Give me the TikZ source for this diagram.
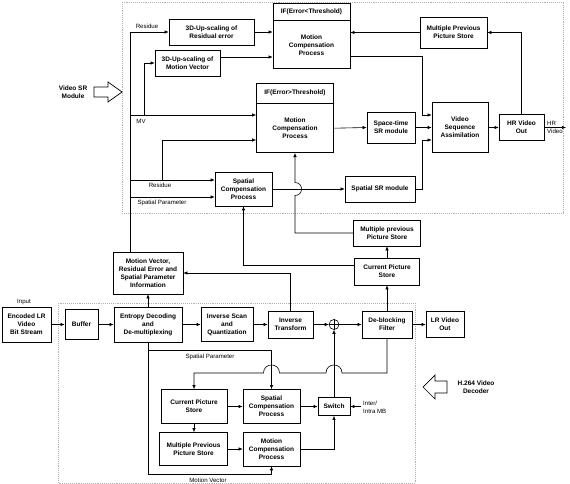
\documentclass[tikz,border=0pt]{standalone}
\usepackage{fontspec}
\setmainfont{Liberation Sans}
\usepackage{tikz}
\usetikzlibrary{positioning, arrows, arrows.meta}

\tikzset{
  blk/.style={draw, line width=0.7pt, align=center, inner sep=1pt, font=\bfseries\fontsize{6.5}{8}\selectfont},
  tag/.style={align=center, inner sep=0pt, font=\bfseries\fontsize{6.5}{8}\selectfont},
  lbl/.style={inner sep=0pt, font=\fontsize{6.1}{7.8}\selectfont},
  arr/.style={-{Latex[length=4pt,width=3.5pt]}, line width=0.6pt},
  wire/.style={line width=0.6pt},
  zone/.style={gray!60, densely dotted, line width=0.9pt},
  bigarrow/.style={draw, line width=0.7pt, fill=white},
}

\begin{document}
\begin{tikzpicture}[x=1pt, y=-1pt]
\useasboundingbox (0,0) rectangle (570,484);
% dotted module frames
\draw[zone] (122,2) rectangle (563,213);
\draw[zone] (58,303) rectangle (415,483);

% video SR module
\node[blk, minimum width=85pt, minimum height=26pt] (res3d) at (211.5,32) {3D-Up-scaling of\\Residual error};
\node[blk, minimum width=65pt, minimum height=26pt] (mv3d) at (187.5,63) {3D-Up-scaling of\\Motion Vector};
\node[blk, minimum width=77pt, minimum height=17pt] (mchead1) at (311.5,11.5) {IF(Error<Threshold)};
\node[blk, minimum width=77pt, minimum height=48pt, below=0pt of mchead1] (mctop) {Motion\\Compensation\\Process};
\node[blk, minimum width=67pt, minimum height=31pt] (mpps1) at (453.5,32.5) {Multiple Previous\\Picture Store};
\node[blk, minimum width=77pt, minimum height=20pt] (mchead2) at (295,93) {IF(Error>Threshold)};
\node[blk, minimum width=77pt, minimum height=49pt, below=0pt of mchead2] (mcmid) {Motion\\Compensation\\Process};
\node[blk, minimum width=48pt, minimum height=31pt] (stsr) at (391,127.5) {Space-time\\SR module};
\node[blk, minimum width=56pt, minimum height=50pt] (vsa) at (460,127.5) {Video\\Sequence\\Assimilation};
\node[blk, minimum width=45pt, minimum height=26pt] (hrout) at (521.5,127.5) {HR Video\\Out};
\node[blk, minimum width=57pt, minimum height=34pt] (scp1) at (243.5,189) {Spatial\\Compensation\\Process};
\node[blk, minimum width=70pt, minimum height=26pt] (ssr) at (380,189) {Spatial SR module};

% between the modules
\node[blk, minimum width=67pt, minimum height=26pt] (mpps2) at (387,233) {Multiple previous\\Picture Store};
\node[blk, minimum width=65pt, minimum height=27pt] (cps2) at (387,271.5) {Current Picture\\Store};
\node[blk, minimum width=70pt, minimum height=42pt] (mvinfo) at (148,273) {Motion Vector,\\Residual Error and\\Spatial Parameter\\Information};

% H.264 decoder
\node[blk, minimum width=49pt, minimum height=35pt] (enc) at (26.5,324.5) {Encoded LR\\Video\\Bit Stream};
\node[blk, minimum width=33pt, minimum height=30pt] (buf) at (81.5,324.5) {Buffer};
\node[blk, minimum width=68pt, minimum height=35pt] (ent) at (148,324.5) {Entropy Decoding\\and\\De-multiplexing};
\node[blk, minimum width=52pt, minimum height=34pt] (isq) at (227,324.5) {Inverse Scan\\and\\Quantization};
\node[blk, minimum width=45pt, minimum height=27pt] (itr) at (290.5,324.5) {Inverse\\Transform};
\node[draw, circle, line width=0.6pt, minimum size=10pt, inner sep=0pt] (sum) at (334,324.5) {};
\node[blk, minimum width=50pt, minimum height=27pt] (dbf) at (387,324.5) {De-blocking\\Filter};
\node[blk, minimum width=38pt, minimum height=26pt] (lrout) at (445,324.5) {LR Video\\Out};
\node[blk, minimum width=66pt, minimum height=34pt] (cps1) at (194,406.5) {Current Picture\\Store};
\node[blk, minimum width=57pt, minimum height=34pt] (scp2) at (271.5,406.5) {Spatial\\Compensation\\Process};
\node[blk, minimum width=32pt, minimum height=18pt] (sw) at (334,406.5) {Switch};
\node[blk, minimum width=68pt, minimum height=33pt] (mpps3) at (193.5,449) {Multiple Previous\\Picture Store};
\node[blk, minimum width=57pt, minimum height=34pt] (mc3) at (271.5,449) {Motion\\Compensation\\Process};
\draw[wire] (sum.north) -- (sum.south) (sum.west) -- (sum.east);

% block arrows
\draw[bigarrow] (94,87) -- (108,87) -- (108,82) -- (122,92) -- (108,102) -- (108,97) -- (94,97) -- cycle;
\node[tag] (srtxt) at (73,92) {Video SR\\Module};
\draw[bigarrow] (447,381) -- (435,381) -- (435,375) -- (423,387) -- (435,399) -- (435,393) -- (447,393) -- cycle;
\node[tag] (dectxt) at (476,387.5) {H.264 Video\\Decoder};

% labels
\node[lbl] (lres1) at (147,26) {Residue};
\node[lbl] (lmv) at (141,121) {MV};
\node[lbl] (lres2) at (160,185) {Residue};
\node[lbl] (lsp1) at (162,203) {Spatial Parameter};
\node[lbl, align=left, anchor=west] (lhr) at (547,127.5) {HR\\Video};
\node[lbl] (lin) at (24,302) {Input};
\node[lbl] (lsp2) at (210,357) {Spatial Parameter};
\node[lbl] (lmvec) at (208,480) {Motion Vector};
\node[lbl, align=left, anchor=west] (lintra) at (363,407) {Inter/\\Intra MB};

% coordinates on the bus
\coordinate (bus) at (130,32);
\coordinate (mvpt) at (130,115);
\coordinate (mvbr) at (144,115);
\coordinate (respt) at (130,180);
\coordinate (resbr) at (162,180);
\coordinate (restop) at (162,140);
\coordinate (sppt) at (130,197);
\coordinate (hrend) at (566,127.5);
\coordinate (spbr) at (148,350);
\coordinate (mvbot) at (148,474);
\coordinate (intra) at (361,406.5);

% upper connectors
\draw[arr] (bus |- mvinfo.north) -- (bus) -- (res3d.west);
\draw[arr] (mvpt) -- (mvpt -| mcmid.west);
\draw[arr] (mvbr) |- (mv3d.west);
\draw[arr] (respt) -- (respt -| scp1.west);
\draw[arr] (resbr) -- (restop) -- (restop -| mcmid.west);
\draw[arr] (sppt) -- (sppt -| scp1.west);
\draw[arr] (res3d.east) -- (res3d.east -| mctop.west);
\draw[arr] ([yshift=6pt]mv3d.east) -- ([yshift=6pt]mv3d.east -| mctop.west);
\draw[arr] (mpps1.west) -- (mpps1.west -| mctop.east);
\draw[arr] (hrout.north) |- (mpps1.east);
\draw[arr] ([yshift=-12pt]mctop.east) -| ([xshift=-9pt,yshift=12.5pt]vsa.west) -- ([yshift=12.5pt]vsa.west);
\draw[arr] (mcmid.east) -- (stsr.west);
\draw[arr] (stsr.east) -- (vsa.west);
\draw[arr] (ssr.east) -| ([xshift=-9pt,yshift=-12.5pt]vsa.west) -- ([yshift=-12.5pt]vsa.west);
\draw[arr] (vsa.east) -- (hrout.west);
\draw[arr] (hrout.east) -- (hrend);
\draw[arr] (scp1.east) -- (ssr.west);
\draw[arr] (mpps2.west) -| (295,195.5) .. controls (303.7,195.5) and (303.7,182.5) .. (295,182.5) -- (mcmid.south);

% middle connectors
\draw[arr] (ent.north) -- (mvinfo.south);
\draw[arr] (itr.north) |- (mvinfo.east);
\draw[arr] (dbf.north) -- (cps2.south);
\draw[arr] (cps2.north) -- (mpps2.south);
\draw[arr] ([yshift=6pt]cps2.west) -| (scp1.south);

% decoder connectors
\draw[arr] (enc.east) -- (buf.west);
\draw[arr] (buf.east) -- (ent.west);
\draw[arr] (ent.east) -- (isq.west);
\draw[arr] (isq.east) -- (itr.west);
\draw[arr] (itr.east) -- (sum.west);
\draw[arr] (sum.east) -- (dbf.west);
\draw[arr] (dbf.east) -- (lrout.west);
\draw[arr] (ent.south) -- (mvbot) -| (mc3.south);
\draw[arr] (spbr) -| (scp2.north);
\draw[arr] (dbf.south) |- (342,373) .. controls (342,362.3) and (326,362.3) .. (326,373)
  -- (279.5,373) .. controls (279.5,362.3) and (263.5,362.3) .. (263.5,373) -| (cps1.north);
\draw[arr] (cps1.east) -- (scp2.west);
\draw[arr] (cps1.south) -- (cps1.south |- mpps3.north);
\draw[arr] (mpps3.east) -- (mc3.west);
\draw[arr] (scp2.east) -- (sw.west);
\draw[arr] (mc3.east) -| (sw.south);
\draw[arr] (sw.north) -- (sum.south);
\draw[arr] (intra) -- (sw.east);
\end{tikzpicture}
\end{document}
